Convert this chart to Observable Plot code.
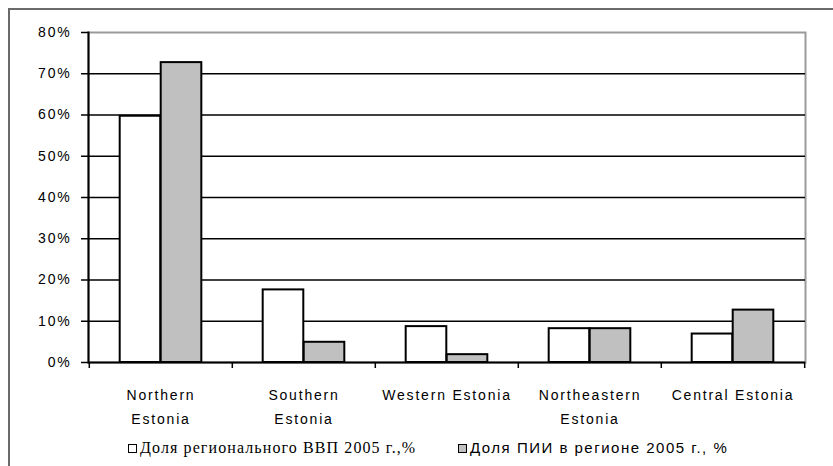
<!DOCTYPE html>
<html>
<head>
<meta charset="utf-8">
<script src="https://cdn.jsdelivr.net/npm/d3@7"></script>
<script src="https://cdn.jsdelivr.net/npm/@observablehq/plot@0.6"></script>
<style>
  html, body { margin: 0; padding: 0; background: #fff; }
  body { width: 833px; height: 466px; overflow: hidden; position: relative; }
  #box {
    position: absolute; left: 8px; top: 8px; width: 900px; height: 500px;
    border-left: 2px solid #6a6a6a; border-top: 2px solid #6a6a6a;
  }
  #chart { position: absolute; left: 0; top: 0; }
  #chart svg { overflow: visible; }
  #chart svg text { letter-spacing: 1.8px; }
  #legend {
    position: absolute; top: 438px; left: 0; width: 833px; height: 20px;
    color: #000;
  }
  .item { position: absolute; top: 0; white-space: nowrap; line-height: 20px; }
  .sw { display: inline-block; width: 7px; height: 7px; border: 1.5px solid #000;
        vertical-align: middle; margin-right: 3px; position: relative; top: -1px; }
</style>
</head>
<body>
<div id="box"></div>
<div id="chart"></div>
<div id="legend"></div>
<script>
// Regions of Estonia and their shares (%) in 2005
const regions = ["Northern Estonia", "Southern Estonia", "Western Estonia", "Northeastern Estonia", "Central Estonia"];
const regionLabels = ["Northern\nEstonia", "Southern\nEstonia", "Western Estonia", "Northeastern\nEstonia", "Central Estonia"];
const gdpShare = [59.7, 17.6, 8.7, 8.2, 6.9];   // share of regional GDP
const fdiShare = [72.7, 4.9, 1.9, 8.2, 12.7];   // share of FDI in the region
const yTicks = [0, 10, 20, 30, 40, 50, 60, 70, 80];
const seriesNames = ["Доля регионального ВВП 2005 г.,%", "Доля ПИИ в регионе 2005 г., %"];
const seriesFill = ["#ffffff", "#c0c0c0"];

const gdpRows = regions.map((r, i) => ({region: r, value: gdpShare[i]}));
const fdiRows = regions.map((r, i) => ({region: r, value: fdiShare[i]}));
const labelOf = new Map(regions.map((r, i) => [r, regionLabels[i]]));

const W = 833, H = 466, mL = 88, mR = 28, mT = 32, mB = 104;
const band = (W - mL - mR) / regions.length;
const barW = band * 0.286;
const gap = (band - 2 * barW) / 2;

const chart = Plot.plot({
  width: W, height: H,
  marginLeft: mL, marginRight: mR, marginTop: mT, marginBottom: mB,
  style: {fontFamily: "'Liberation Sans', Arial, sans-serif", fontSize: "14px", color: "#000", background: "transparent"},
  x: {domain: regions, padding: 0, axis: null, label: null},
  y: {domain: [0, 80], axis: null, label: null},
  marks: [
    Plot.frame({stroke: "#9a9a9a", strokeWidth: 2}),
    Plot.ruleY(yTicks.filter(t => t > 0 && t < 80), {stroke: "#000", strokeWidth: 1.5}),
    Plot.barY(gdpRows, {x: "region", y: "value", fill: seriesFill[0], stroke: "#000", strokeWidth: 2,
      insetLeft: gap, insetRight: gap + barW}),
    Plot.barY(fdiRows, {x: "region", y: "value", fill: seriesFill[1], stroke: "#000", strokeWidth: 2,
      insetLeft: gap + barW, insetRight: gap}),
    Plot.ruleY([0], {stroke: "#000", strokeWidth: 2}),
    Plot.frame({anchor: "left", stroke: "#000", strokeWidth: 2}),
    Plot.axisY({ticks: yTicks, tickSize: 7, tickPadding: 10, tickFormat: d => d + "%", label: null,
      stroke: "#000", strokeWidth: 1.5, fill: "#000", fontSize: 14}),
    // category boundary ticks below the baseline
    Plot.tickX(regions, {x: d => d, dx: -band / 2, insetTop: H - mT - mB, insetBottom: -6, stroke: "#000", strokeWidth: 1.5}),
    Plot.tickX(regions.slice(-1), {x: d => d, dx: band / 2, insetTop: H - mT - mB, insetBottom: -6, stroke: "#000", strokeWidth: 1.5}),
    Plot.axisX({tickSize: 0, tickPadding: 21, tickFormat: d => labelOf.get(d), lineHeight: 1.71, label: null,
      fill: "#000", fontSize: 14})
  ]
});
document.getElementById("chart").append(chart);

// legend
const legend = document.getElementById("legend");
const fonts = ["'Liberation Serif', 'Times New Roman', serif", "'Liberation Sans', Arial, sans-serif"];
const sizes = ["16px", "15px"];
const lefts = [128, 458];
const spacing = ["1.1px", "1.5px"];
seriesNames.forEach((name, i) => {
  const it = document.createElement("div");
  it.className = "item";
  it.style.left = lefts[i] + "px";
  it.style.fontFamily = fonts[i];
  it.style.fontSize = sizes[i];
  it.style.letterSpacing = spacing[i];
  const sw = document.createElement("span");
  sw.className = "sw";
  sw.style.background = seriesFill[i];
  it.append(sw, document.createTextNode(name));
  legend.append(it);
});
</script>
</body>
</html>
